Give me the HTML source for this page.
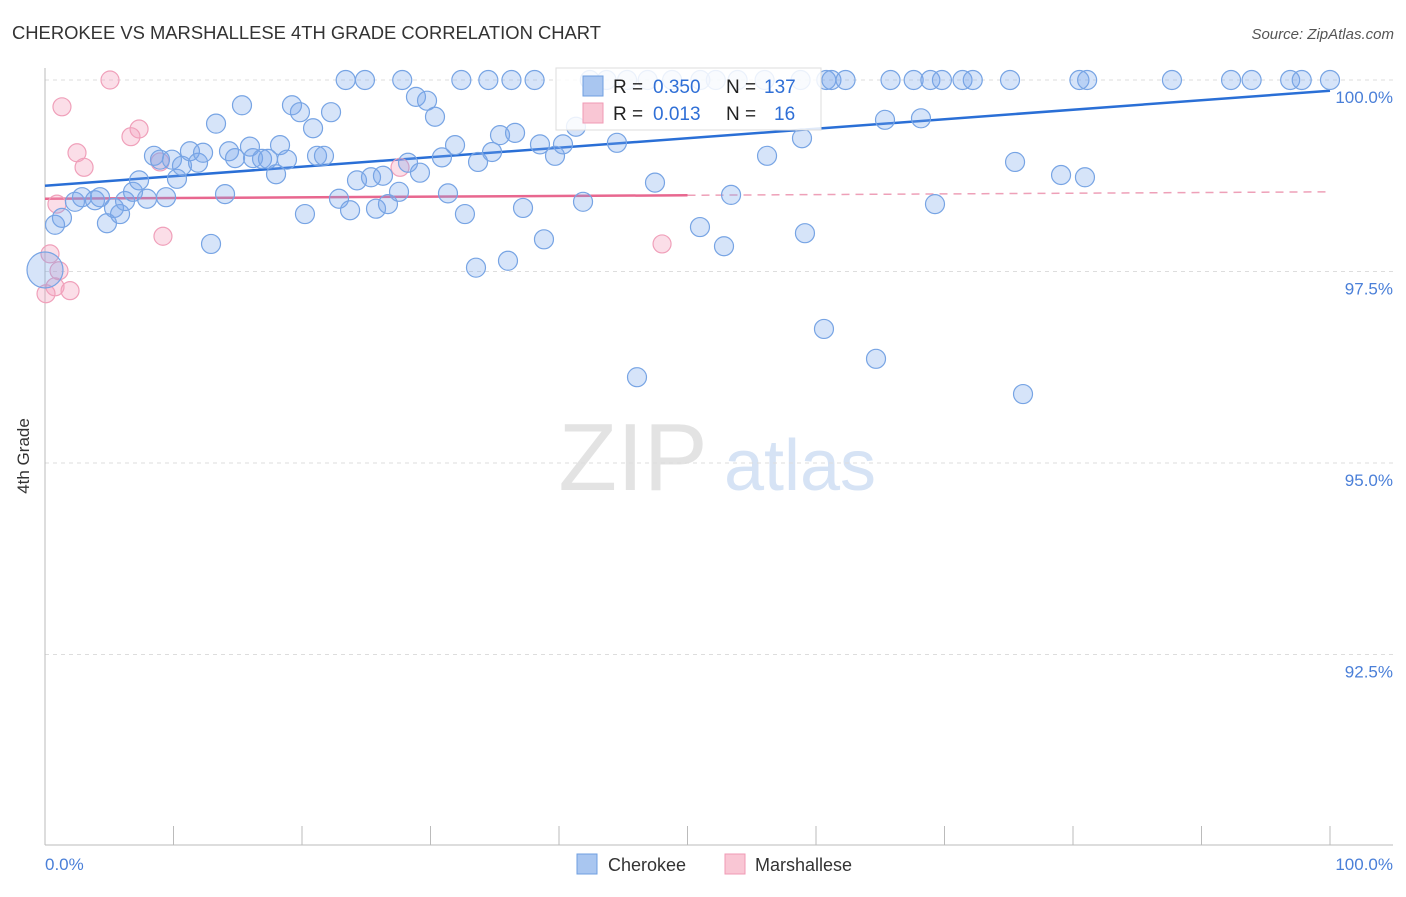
<!DOCTYPE html>
<html><head><meta charset="utf-8"><style>
body{margin:0;background:#fff;font-family:"Liberation Sans",sans-serif}
svg text{font-family:"Liberation Sans",sans-serif}
</style></head><body>
<svg id="chart" width="1406" height="892" xmlns="http://www.w3.org/2000/svg">
<text x="12" y="39" font-size="18.4" fill="#333">CHEROKEE VS MARSHALLESE 4TH GRADE CORRELATION CHART</text>
<text x="1394" y="39" font-size="15" fill="#555" text-anchor="end" font-style="italic">Source: ZipAtlas.com</text>
<g>
<text x="633" y="490" font-size="96" fill="#e3e3e3" text-anchor="middle" font-family="Liberation Serif,serif">ZIP</text>
<text x="800" y="490" font-size="72" fill="#d6e3f5" text-anchor="middle">atlas</text>
</g>
<g id="grid"></g>
<g id="axes"></g>
<g id="trend"></g>
<g id="pts"></g>
<g>
<rect x="556" y="68" width="265" height="62" fill="#fff" fill-opacity="0.85" stroke="#ddd"/>
<rect x="583" y="76" width="20" height="20" fill="#a9c6f0" stroke="#6f9fe0"/>
<text x="613" y="93" font-size="19" fill="#222">R =</text>
<text x="653" y="93" font-size="19" fill="#2f6fd6">0.350</text>
<text x="726" y="93" font-size="19" fill="#222">N =</text>
<text x="764" y="93" font-size="19" fill="#2f6fd6">137</text>
<rect x="583" y="103" width="20" height="20" fill="#f9c6d4" stroke="#f09ab4"/>
<text x="613" y="120" font-size="19" fill="#222">R =</text>
<text x="653" y="120" font-size="19" fill="#2f6fd6">0.013</text>
<text x="726" y="120" font-size="19" fill="#222">N =</text>
<text x="774" y="120" font-size="19" fill="#2f6fd6">16</text>
</g>
<g>
<rect x="577" y="854" width="20" height="20" fill="#a9c6f0" stroke="#6f9fe0"/>
<text x="608" y="871" font-size="18" fill="#333">Cherokee</text>
<rect x="725" y="854" width="20" height="20" fill="#f9c6d4" stroke="#f09ab4"/>
<text x="755" y="871" font-size="18" fill="#333">Marshallese</text>
</g>
<text x="29" y="456" font-size="17" fill="#333" transform="rotate(-90 29 456)" text-anchor="middle">4th Grade</text>
</svg>
<script>
const blueX=[23.4,24.9,27.8,32.4,34.5,36.3,38.1,42.4,43.7,45.3,46.9,48.8,51.0,52.2,53.9,56.0,58.8,60.8,61.2,62.3,65.8,67.6,68.9,69.8,71.4,72.2,75.1,80.5,81.1,87.7,92.3,93.9,96.9,97.8,100,
0.78,1.32,2.33,2.88,3.89,4.28,4.82,5.37,5.84,6.23,6.85,7.32,7.94,8.48,8.95,9.42,9.88,10.27,10.66,11.28,11.91,12.30,12.92,13.31,14.01,14.32,14.79,15.33,15.95,16.19,16.89,17.35,17.98,18.29,18.83,19.22,19.84,20.23,20.86,21.17,21.71,22.26,22.88,23.74,24.28,25.37,25.76,26.30,26.69,27.55,28.25,28.87,29.18,29.73,30.35,30.89,31.36,31.91,32.68,33.54,33.70,34.79,35.41,36.03,36.58,37.20,38.52,38.83,39.69,40.31,41.32,41.87,44.51,47.47,50.97,52.84,53.39,56.19,58.91,59.14,60.62,64.67,65.37,68.17,69.26,75.49,76.11,79.07,80.93,46.07,0];
const blueY=[100,100,100,100,100,100,100,100,100,100,100,100,100,100,100,100,100,100,100,100,100,100,100,100,100,100,100,100,100,100,100,100,100,100,100,
98.11,98.20,98.41,98.47,98.43,98.47,98.13,98.33,98.25,98.42,98.54,98.69,98.45,99.01,98.96,98.47,98.96,98.71,98.88,99.07,98.92,99.05,97.86,99.43,98.51,99.07,98.98,99.67,99.13,98.98,98.97,98.97,98.77,99.15,98.96,99.67,99.58,98.25,99.37,99.01,99.01,99.58,98.45,98.30,98.69,98.73,98.32,98.75,98.38,98.54,98.92,99.78,98.79,99.73,99.52,98.99,98.52,99.15,98.25,97.55,98.93,99.06,99.28,97.64,99.31,98.33,99.16,97.92,99.01,99.16,99.39,98.41,99.18,98.66,98.08,97.83,98.50,99.01,99.24,98.00,96.75,96.36,99.48,99.50,98.38,98.93,95.90,98.76,98.73,96.12,97.52];
const pinkX=[5.06,1.32,7.32,6.69,2.49,3.04,8.95,0.93,9.18,27.63,48.02,0.39,1.09,0.78,1.95,0.08];
const pinkY=[100,99.65,99.36,99.26,99.05,98.86,98.93,98.38,97.96,98.86,97.86,97.73,97.51,97.30,97.25,97.21];
const blueTrend=[98.62,99.86];
const pinkTrend=[98.45,98.54];
const pinkSolidEnd=50;
const yTicks=[100,97.5,95,92.5];
const yTickLabels=["100.0%","97.5%","95.0%","92.5%"];
const X0=45,X1=1330,Y100=80,PXPER=76.6;
const sx=v=>X0+(X1-X0)*v/100;
const sy=v=>Y100+(100-v)*PXPER;
const NS="http://www.w3.org/2000/svg";
function mk(tag,attrs,parent){const e=document.createElementNS(NS,tag);for(const k in attrs)e.setAttribute(k,attrs[k]);parent.appendChild(e);return e;}
const grid=document.getElementById('grid'),axes=document.getElementById('axes'),trend=document.getElementById('trend'),pts=document.getElementById('pts');
yTicks.forEach((t,i)=>{
 const l=mk('line',{x1:X0,x2:1393,y1:sy(t),y2:sy(t),stroke:'#ddd','stroke-dasharray':'4 4'},grid);
 
 
 const tx=mk('text',{x:1393,y:sy(t)+23,'font-size':17,fill:'#4a7fd8','text-anchor':'end'},axes);
 tx.textContent=yTickLabels[i];
 
 
});
let a=mk('line',{x1:X0,x2:X0,y1:68,y2:845,stroke:'#bbb'},axes);

a=mk('line',{x1:X0,x2:1393,y1:845,y2:845,stroke:'#bbb'},axes);

for(let i=0;i<=10;i++){const t=mk('line',{x1:sx(i*10),x2:sx(i*10),y1:826,y2:845,stroke:'#bbb'},axes);
 }
let t=mk('text',{x:45,y:870,'font-size':17,fill:'#4a7fd8'},axes);t.textContent='0.0%';

t=mk('text',{x:1393,y:870,'font-size':17,fill:'#4a7fd8','text-anchor':'end'},axes);t.textContent='100.0%';

pinkX.forEach((x,i)=>{const c=mk('circle',{cx:sx(x),cy:sy(pinkY[i]),r:9,fill:'rgba(244,160,188,0.35)',stroke:'#f0a0ba','stroke-width':1.2},pts);
 });
blueX.forEach((x,i)=>{const big=(i===blueX.length-1);const c=mk('circle',{cx:sx(x),cy:sy(blueY[i]),r:big?18:9.5,fill:'rgba(120,165,235,0.3)',stroke:'#77a4e4','stroke-width':1.2},pts);
 });
const py=(tr,x)=>tr[0]+(tr[1]-tr[0])*x/100;
let L=mk('line',{x1:sx(0),y1:sy(blueTrend[0]),x2:sx(100),y2:sy(blueTrend[1]),stroke:'#2a6fd6','stroke-width':2.5},trend);

L=mk('line',{x1:sx(0),y1:sy(pinkTrend[0]),x2:sx(pinkSolidEnd),y2:sy(py(pinkTrend,pinkSolidEnd)),stroke:'#e8678f','stroke-width':2.5},trend);

L=mk('line',{x1:sx(pinkSolidEnd),y1:sy(py(pinkTrend,pinkSolidEnd)),x2:sx(100),y2:sy(pinkTrend[1]),stroke:'#eea0b8','stroke-width':1.5,'stroke-dasharray':'8 6'},trend);

</script>
</body></html>
